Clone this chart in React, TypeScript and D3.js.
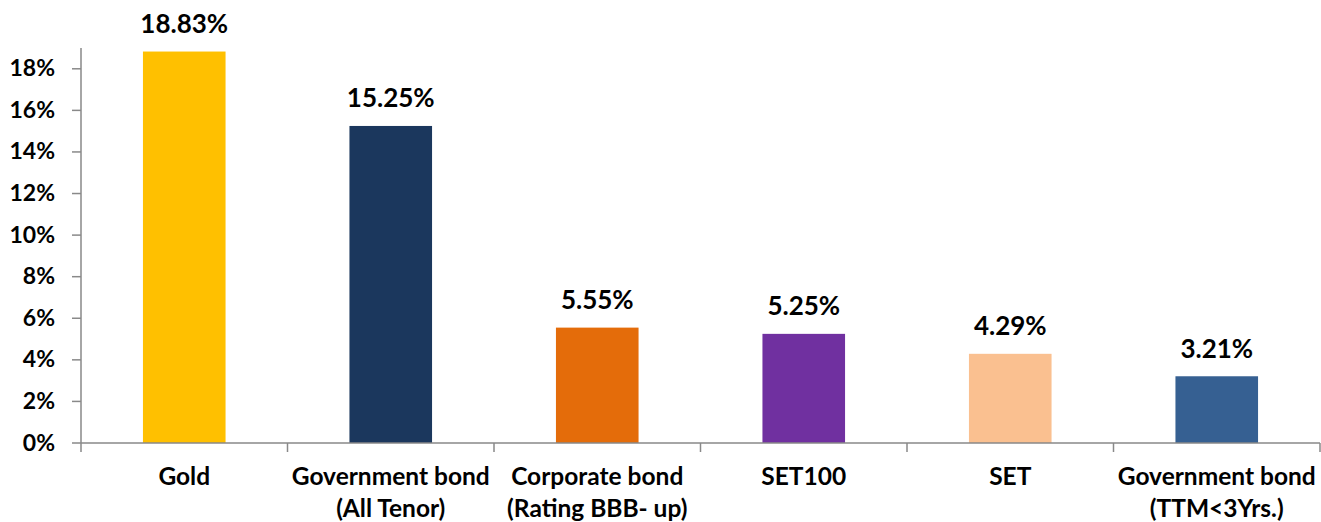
import React from "react";
import * as d3 from "d3";

const categories: string[][] = [
  ["Gold"],
  ["Government bond", "(All Tenor)"],
  ["Corporate bond", "(Rating BBB- up)"],
  ["SET100"],
  ["SET"],
  ["Government bond", "(TTM<3Yrs.)"],
];
const values: number[] = [18.83, 15.25, 5.55, 5.25, 4.29, 3.21];
const valueLabels: string[] = ["18.83%", "15.25%", "5.55%", "5.25%", "4.29%", "3.21%"];
const barColors: string[] = ["#FFC000", "#1B375D", "#E46C0A", "#7030A0", "#FAC090", "#366092"];
const yTicks: number[] = [0, 2, 4, 6, 8, 10, 12, 14, 16, 18];

const W = 1321;
const H = 522;
const left = 81;
const right = 1320;
const bottom = 443;
const top = 48;
const FONT = "Lato, 'Open Sans', sans-serif";
const AXIS = "#898989";

export default function App() {
  const idx = categories.map((_, i) => String(i));
  const x = d3.scaleBand<string>().domain(idx).range([left, right]).paddingInner(0.6).paddingOuter(0.3);
  const y = d3.scaleLinear().domain([0, 19]).range([bottom, top]);
  const step = x.step();
  return (
    <svg width={W} height={H} style={{ position: "absolute", left: 0, top: 0, background: "#fff" }}>
      {values.map((v, i) => (
        <rect key={i} x={x(String(i))} y={y(v)} width={x.bandwidth()} height={bottom - y(v)} fill={barColors[i]} />
      ))}
      {values.map((v, i) => (
        <text key={"v" + i} x={(x(String(i)) as number) + x.bandwidth() / 2} y={y(v) - 18.5}
          textAnchor="middle" fontFamily={FONT} fontWeight="bold" fontSize={26} fill="#000">
          {valueLabels[i]}
        </text>
      ))}
      <line x1={left} x2={left} y1={top} y2={bottom} stroke={AXIS} strokeWidth={1.5} />
      <line x1={left} x2={right} y1={bottom} y2={bottom} stroke={AXIS} strokeWidth={1.5} />
      {yTicks.map((t) => (
        <g key={"t" + t}>
          <line x1={72} x2={left} y1={y(t)} y2={y(t)} stroke={AXIS} strokeWidth={1.5} />
          <text x={55} y={y(t) + 7.5} textAnchor="end" fontFamily={FONT} fontWeight="bold" fontSize={23} fill="#000">
            {t + "%"}
          </text>
        </g>
      ))}
      {d3.range(categories.length + 1).map((i) => (
        <line key={"xt" + i} x1={left + i * step} x2={left + i * step} y1={bottom} y2={bottom + 9} stroke={AXIS} strokeWidth={1.5} />
      ))}
      {categories.map((lines, i) => (
        <text key={"c" + i} textAnchor="middle" fontFamily={FONT} fontWeight="bold" fontSize={24.5} fill="#000">
          {lines.map((l, j) => (
            <tspan key={j} x={(x(String(i)) as number) + x.bandwidth() / 2} y={485 + j * 32}>{l}</tspan>
          ))}
        </text>
      ))}
    </svg>
  );
}
